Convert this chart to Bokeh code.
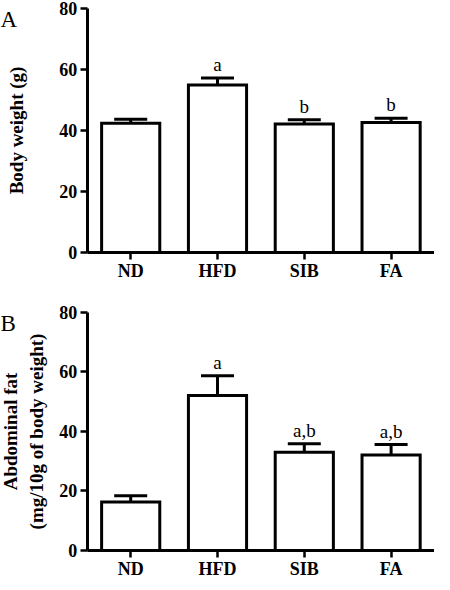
from bokeh.plotting import figure
from bokeh.models import (ColumnDataSource, FactorRange, Range1d, FixedTicker,
                          Whisker, TeeHead, Label)
from bokeh.layouts import column
from bokeh.embed import file_html
from bokeh.resources import INLINE
from bokeh.core.properties import value

groups = ["ND", "HFD", "SIB", "FA"]
y_ticks = [0, 20, 40, 60, 80]

body_weight = [42.4, 54.9, 42.1, 42.6]
body_weight_err = [1.3, 2.3, 1.4, 1.4]
body_weight_sig = ["", "a", "b", "b"]

abd_fat = [16.3, 52.1, 33.0, 32.1]
abd_fat_err = [2.1, 6.6, 2.9, 3.5]
abd_fat_sig = ["", "a", "a,b", "a,b"]

FONT = "Liberation Serif"
MARGIN_FACTOR = " "   # empty slot left of the y axis (room for labels)


def panel(vals, errs, sigs, ylabel, letter, h, view, lab_standoff):
    factors = [MARGIN_FACTOR] + groups
    p = figure(x_range=FactorRange(factors=factors, range_padding=0),
               y_range=Range1d(*view), width=434, height=h,
               output_backend="svg", toolbar_location=None,
               min_border_left=0, min_border_right=0,
               min_border_top=0, min_border_bottom=0)
    upper = [v + e for v, e in zip(vals, errs)]
    src = ColumnDataSource(dict(x=groups, top=vals, upper=upper, sig=sigs))
    p.add_layout(Whisker(source=src, base="x", lower="top", upper="upper",
                         line_width=3, line_color="black",
                         upper_head=TeeHead(size=33, line_width=3, line_color="black"),
                         lower_head=None))
    p.vbar(x="x", top="top", bottom=0, width=0.67, source=src, fill_color="white",
           line_color="black", line_width=3, line_join="miter")
    p.text(x="x", y="upper", text="sig", source=src, text_align="center",
           text_baseline="bottom", y_offset=-3,
           text_font=value(FONT), text_font_size="19px", text_color="black")
    p.add_layout(Label(x=0, y=y_ticks[-1], x_units="screen", y_units="data",
                       text=letter, text_baseline="top", text_align="left",
                       y_offset=1,
                       text_font=FONT, text_font_size="23px", text_color="black"))
    p.xgrid.visible = False
    p.ygrid.visible = False
    p.outline_line_color = None
    p.background_fill_color = "white"
    p.border_fill_color = "white"
    for ax in (p.xaxis[0], p.yaxis[0]):
        ax.axis_line_width = 3
        ax.axis_line_color = "black"
        ax.major_tick_line_width = 2.5
        ax.major_tick_line_color = "black"
        ax.major_tick_out = 7
        ax.major_tick_in = 0
        ax.minor_tick_line_color = None
        ax.major_label_text_font = FONT
        ax.major_label_text_font_style = "bold"
        ax.major_label_text_color = "black"
    p.xaxis.fixed_location = 0
    p.xaxis.bounds = (1, len(factors))
    p.xaxis.major_label_text_font_size = "18px"
    p.xaxis.major_label_standoff = 2
    p.yaxis.fixed_location = 1
    p.yaxis.bounds = (y_ticks[0], y_ticks[-1])
    p.yaxis.major_label_text_font_size = "18px"
    p.yaxis.major_label_standoff = 3
    p.yaxis.ticker = FixedTicker(ticks=y_ticks)
    p.yaxis.axis_label = ylabel
    p.yaxis.axis_label_text_font = FONT
    p.yaxis.axis_label_text_font_style = "bold"
    p.yaxis.axis_label_text_font_size = "19px"
    p.yaxis.axis_label_text_color = "black"
    p.yaxis.axis_label_standoff = lab_standoff
    return p


pA = panel(body_weight, body_weight_err, body_weight_sig, "Body weight (g)",
           "A", 290, (-12.46, 82.62), 30)
pB = panel(abd_fat, abd_fat_err, abd_fat_sig,
           "Abdominal fat\n(mg/10g of body weight)", "B", 292, (-10.76, 87.39), 10)

layout = column(pA, pB, spacing=0)
open("out.html", "w").write(file_html(layout, INLINE))
